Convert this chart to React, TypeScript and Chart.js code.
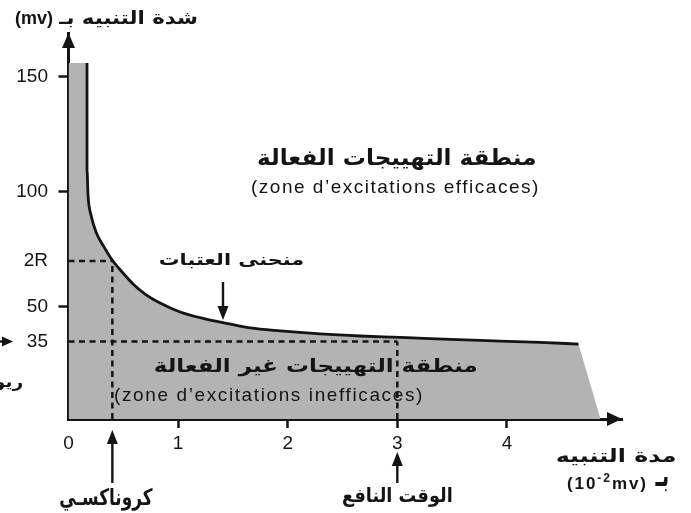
import React, { useEffect, useRef } from "react";
import { Chart, registerables } from "chart.js";

Chart.register(...registerables);

// ---- Data ----
// Strength-duration (threshold) curve: duration t (x 10^-2) vs intensity I (mv)
const curveT = [0.169, 0.169, 0.178, 0.205, 0.251, 0.324, 0.397, 0.489, 0.589, 0.699, 0.836, 1.018, 1.247, 1.429, 1.658, 1.932, 2.297, 2.662, 3.027, 3.484, 3.941, 4.306, 4.653];
const curveI = [156, 109.5, 98.7, 90.0, 82.6, 76.1, 70.5, 65.2, 60.0, 55.6, 51.7, 47.8, 44.8, 43.0, 40.9, 39.6, 38.3, 37.4, 36.8, 35.9, 35.2, 34.6, 33.9];
const fillStartT = 0;
const fillBottomEndT = 4.854;

const xTickValues = [0, 1, 2, 3, 4];
const xTickMarkValues = [1, 2, 3, 4];
const yTickValues = [35, 50, 70, 100, 150];
const yTickLabels = ["35", "50", "2R", "100", "150"];
const yTickMarkValues = [50, 100, 150];

const rheobase = 35;
const twoRheobase = 70;
const chronaxie = 0.4;
const usefulTime = 3;

const X_MIN = 0;
const X_MAX = 5.05;
const Y_MIN = 1.35;
const Y_MAX = 169;

// ---- Texts ----
const yAxisTitle = "شدة التنبيه بـ";
const yAxisUnit = "(mv)";
const effZoneAr = "منطقة التهييجات الفعالة";
const effZoneFr = "(zone d’excitations efficaces)";
const curveLabel = "منحنى العتبات";
const ineffZoneAr = "منطقة التهييجات غير الفعالة";
const ineffZoneFr = "(zone d’excitations inefficaces)";
const chronaxieLabel = "كروناكسـي";
const usefulTimeLabel = "الوقت النافع";
const rheobaseLabel = "ريوباز";
const xAxisTitle = "مدة التنبيه";
const xAxisUnitAr = "بـ";
const xAxisUnitParts = ["(10", "-2", "mv)"];

const INK = "#141414";
const GRAY = "#b3b3b3";
const AR_FONT = '"DejaVu Sans", sans-serif';
const LAT_FONT = '"Liberation Sans", Arial, sans-serif';

type Ctx = CanvasRenderingContext2D;

function arrowHead(ctx: Ctx, tx: number, ty: number, dx: number, dy: number, len: number, w: number) {
  const bx = tx - dx * len;
  const by = ty - dy * len;
  const px = -dy * (w / 2);
  const py = dx * (w / 2);
  ctx.beginPath();
  ctx.moveTo(tx, ty);
  ctx.lineTo(bx + px, by + py);
  ctx.lineTo(bx - px, by - py);
  ctx.closePath();
  ctx.fill();
}

function arrow(ctx: Ctx, x1: number, y1: number, x2: number, y2: number, lw: number, len: number, w: number) {
  const L = Math.hypot(x2 - x1, y2 - y1);
  const dx = (x2 - x1) / L;
  const dy = (y2 - y1) / L;
  ctx.lineWidth = lw;
  ctx.beginPath();
  ctx.moveTo(x1, y1);
  ctx.lineTo(x2 - dx * (len - 2), y2 - dy * (len - 2));
  ctx.stroke();
  arrowHead(ctx, x2, y2, dx, dy, len, w);
}

// Arabic: fit ink box exactly (size from height, horizontal scale for width)
function drawArabic(ctx: Ctx, text: string, x0: number, x1: number, y0: number, y1: number, weight = 700) {
  ctx.save();
  ctx.direction = "rtl";
  ctx.textAlign = "left";
  ctx.textBaseline = "alphabetic";
  ctx.font = `${weight} 100px ${AR_FONT}`;
  let m = ctx.measureText(text);
  const h = m.actualBoundingBoxAscent + m.actualBoundingBoxDescent;
  const size = (100 * (y1 - y0)) / h;
  ctx.font = `${weight} ${size}px ${AR_FONT}`;
  m = ctx.measureText(text);
  const w = m.actualBoundingBoxLeft + m.actualBoundingBoxRight;
  const sx = (x1 - x0) / w;
  ctx.translate(x0, y0);
  ctx.scale(sx, 1);
  ctx.fillText(text, m.actualBoundingBoxLeft, m.actualBoundingBoxAscent);
  ctx.restore();
}

// Latin: given size, letter-spacing to fit width, vertical ink centre
function drawLatin(ctx: Ctx, text: string, weight: number, size: number, x0: number, x1: number, cy: number) {
  ctx.save();
  ctx.direction = "ltr";
  ctx.textAlign = "left";
  ctx.textBaseline = "alphabetic";
  ctx.font = `${weight} ${size}px ${LAT_FONT}`;
  (ctx as any).letterSpacing = "0px";
  let m = ctx.measureText(text);
  const w0 = m.actualBoundingBoxLeft + m.actualBoundingBoxRight;
  const n = Array.from(text).length;
  const sp = Math.max(0, (x1 - x0 - w0) / Math.max(1, n - 1));
  (ctx as any).letterSpacing = `${sp}px`;
  m = ctx.measureText(text);
  const y = cy - (m.actualBoundingBoxDescent - m.actualBoundingBoxAscent) / 2;
  ctx.fillText(text, x0 + m.actualBoundingBoxLeft, y);
  ctx.restore();
}

const annotationsPlugin = {
  id: "annotations",
  afterDraw(chart: any) {
    const ctx: Ctx = chart.ctx;
    const { left, right, top, bottom } = chart.chartArea;
    const xs = chart.scales.x;
    const ys = chart.scales.y;
    ctx.save();
    ctx.fillStyle = INK;
    ctx.strokeStyle = INK;
    ctx.lineCap = "butt";

    // axis arrowheads
    arrowHead(ctx, left, top, 0, -1, 15, 13);
    arrowHead(ctx, right, bottom, 1, 0, 15, 14);

    // pointer arrows
    const cx = xs.getPixelForValue(chronaxie);
    const ux = xs.getPixelForValue(usefulTime);
    const ry = ys.getPixelForValue(rheobase);
    arrow(ctx, cx, 483, cx, 430, 2.4, 14, 11);
    arrow(ctx, ux, 483, ux, 452, 2.4, 14, 11);
    arrow(ctx, 223, 282, 223, 320, 2.4, 14, 11);
    arrow(ctx, -2, ry, 13, ry, 2.4, 11, 10);

    // texts
    drawArabic(ctx, yAxisTitle, 58, 197, 10, 27);
    drawLatin(ctx, yAxisUnit, 700, 18, 15, 53, 19.5);

    drawArabic(ctx, effZoneAr, 258, 535, 148, 170);
    drawLatin(ctx, effZoneFr, 400, 19, 252, 538, 188);

    drawArabic(ctx, curveLabel, 160, 303, 253, 268);

    drawArabic(ctx, ineffZoneAr, 155, 477, 358, 377);
    drawLatin(ctx, ineffZoneFr, 400, 19, 115, 422, 396);

    drawArabic(ctx, chronaxieLabel, 60, 153, 487, 510);
    drawArabic(ctx, usefulTimeLabel, 343, 452, 487, 507);
    drawArabic(ctx, rheobaseLabel, -32, 23, 375, 391);

    drawArabic(ctx, xAxisTitle, 557, 675, 448, 465);
    drawArabic(ctx, xAxisUnitAr, 655, 668, 477, 492);

    // (10^-2 mv)
    ctx.save();
    ctx.textAlign = "left";
    ctx.textBaseline = "alphabetic";
    const sizes = [17, 12, 17];
    const dys = [0, -7, 0];
    let total = 0;
    let nChars = 0;
    xAxisUnitParts.forEach((p, i) => {
      ctx.font = `700 ${sizes[i]}px ${LAT_FONT}`;
      total += ctx.measureText(p).width;
      nChars += p.length;
    });
    const sp = Math.max(0, (646 - 567 - total) / (nChars - 1));
    let xx = 567;
    const baseY = 489;
    xAxisUnitParts.forEach((p, i) => {
      ctx.font = `700 ${sizes[i]}px ${LAT_FONT}`;
      (ctx as any).letterSpacing = `${sp}px`;
      ctx.fillText(p, xx, baseY + dys[i]);
      xx += ctx.measureText(p).width;
    });
    ctx.restore();

    ctx.restore();
  },
};

export default function App() {
  const ref = useRef<HTMLCanvasElement | null>(null);

  useEffect(() => {
    const canvas = ref.current;
    if (!canvas) return;

    const curvePts = curveT.map((t, i) => ({ x: t, y: curveI[i] }));
    const fillPts = [{ x: fillStartT, y: curveI[0] }, ...curvePts, { x: fillBottomEndT, y: Y_MIN }];

    const dashed = (pts: { x: number; y: number }[]) => ({
      data: pts,
      showLine: true,
      borderColor: INK,
      borderWidth: 2.5,
      borderDash: [6, 4.5],
      pointRadius: 0,
      fill: false,
      order: 2,
    });

    const chart = new Chart(canvas, {
      type: "scatter",
      data: {
        datasets: [
          {
            data: fillPts,
            showLine: true,
            borderWidth: 0,
            borderColor: "rgba(0,0,0,0)",
            backgroundColor: GRAY,
            fill: "start",
            pointRadius: 0,
            tension: 0,
            order: 3,
          } as any,
          dashed([{ x: 0, y: twoRheobase }, { x: chronaxie, y: twoRheobase }]),
          dashed([{ x: chronaxie, y: Y_MIN }, { x: chronaxie, y: twoRheobase }]),
          dashed([{ x: 0, y: rheobase }, { x: usefulTime, y: rheobase }]),
          dashed([{ x: usefulTime, y: Y_MIN }, { x: usefulTime, y: rheobase }]),
          {
            data: curvePts,
            showLine: true,
            borderColor: INK,
            borderWidth: 2.8,
            pointRadius: 0,
            fill: false,
            cubicInterpolationMode: "monotone",
            order: 1,
          } as any,
        ],
      },
      options: {
        responsive: false,
        animation: false,
        devicePixelRatio: 1,
        layout: { padding: { left: 0, right: 69, top: 33, bottom: 0 } },
        plugins: {
          legend: { display: false },
          tooltip: { enabled: false },
          title: { display: false },
        },
        scales: {
          x: {
            type: "linear",
            position: "bottom",
            min: X_MIN,
            max: X_MAX,
            afterBuildTicks: (s: any) => {
              s.ticks = xTickValues.map((v) => ({ value: v }));
            },
            afterFit: (s: any) => {
              s.height = 94;
            },
            grid: {
              display: true,
              drawOnChartArea: false,
              drawTicks: true,
              tickLength: 9,
              tickWidth: 2.5,
              tickColor: (c: any) => (c.tick && xTickMarkValues.includes(c.tick.value) ? INK : "rgba(0,0,0,0)"),
            },
            border: { display: true, color: INK, width: 3 },
            ticks: {
              color: INK,
              font: { family: LAT_FONT, size: 19 },
              padding: 4,
              maxRotation: 0,
              autoSkip: false,
              callback: (v: any) => String(v),
            },
          },
          y: {
            type: "linear",
            position: "left",
            min: Y_MIN,
            max: Y_MAX,
            afterBuildTicks: (s: any) => {
              s.ticks = yTickValues.map((v) => ({ value: v }));
            },
            afterFit: (s: any) => {
              s.width = 68.5;
            },
            grid: {
              display: true,
              drawOnChartArea: false,
              drawTicks: true,
              tickLength: 10,
              tickWidth: 2.5,
              tickColor: (c: any) => (c.tick && yTickMarkValues.includes(c.tick.value) ? INK : "rgba(0,0,0,0)"),
            },
            border: { display: true, color: INK, width: 3 },
            ticks: {
              color: INK,
              font: { family: LAT_FONT, size: 19 },
              padding: 10.5,
              autoSkip: false,
              callback: (v: any) => {
                const i = yTickValues.indexOf(Number(v));
                return i >= 0 ? yTickLabels[i] : "";
              },
            },
          },
        },
      },
      plugins: [annotationsPlugin],
    } as any);

    return () => chart.destroy();
  }, []);

  return (
    <div style={{ position: "fixed", left: 0, top: 0, width: 691, height: 513, background: "#fff" }}>
      <canvas ref={ref} width={691} height={513} style={{ display: "block" }} />
    </div>
  );
}
